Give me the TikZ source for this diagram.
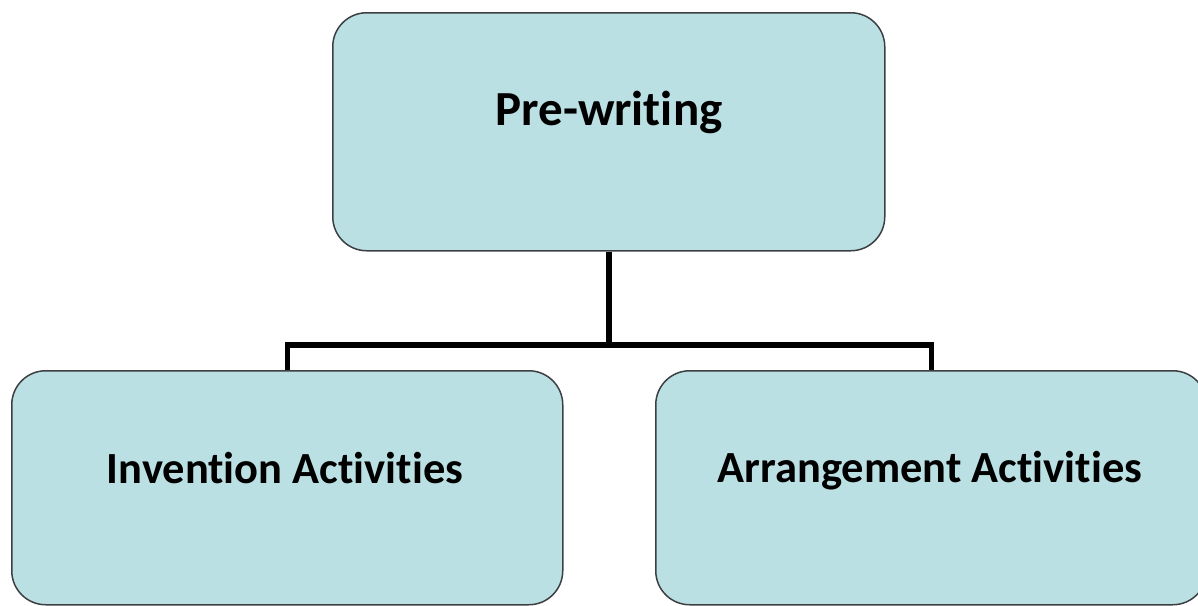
\documentclass[tikz,border=0pt]{standalone}
\usepackage{fontspec}
\setmainfont{Carlito}[Ligatures=NoCommon]
\definecolor{boxfill}{RGB}{187,224,227}
\definecolor{boxline}{RGB}{60,64,66}
\begin{document}
\begin{tikzpicture}[x=1pt,y=-1pt,
  box/.style={draw=boxline, line width=1.5pt, fill=boxfill, rounded corners=34pt, inner sep=0pt, anchor=north west},
  lbl/.style={font=\bfseries\fontsize{44.5}{52}\selectfont, inner sep=0pt, anchor=base},
  conn/.style={draw=black, line width=5.5pt, line join=miter}]
\useasboundingbox (0,0) rectangle (1198,605);
\node[box, minimum width=552pt, minimum height=238pt] (top) at (332,12) {};
\node[box, minimum width=551pt, minimum height=234pt] (left) at (11,370) {};
\node[box, minimum width=551pt, minimum height=234pt] (right) at (655,370) {};
\node[lbl, font=\bfseries\fontsize{49}{56}\selectfont] (ttop) at (609,125) {Pre-writing};
\node[lbl] (tleft) at (285,483) {Invention Activities};
\node[lbl] (tright) at (930,482) {Arrangement Activities};
\coordinate (hb) at (0,345);
\draw[conn] (top.south) -- (top.south |- hb);
\draw[conn] (left.north) -- (left.north |- hb) -- (right.north |- hb) -- (right.north);
\end{tikzpicture}
\end{document}
